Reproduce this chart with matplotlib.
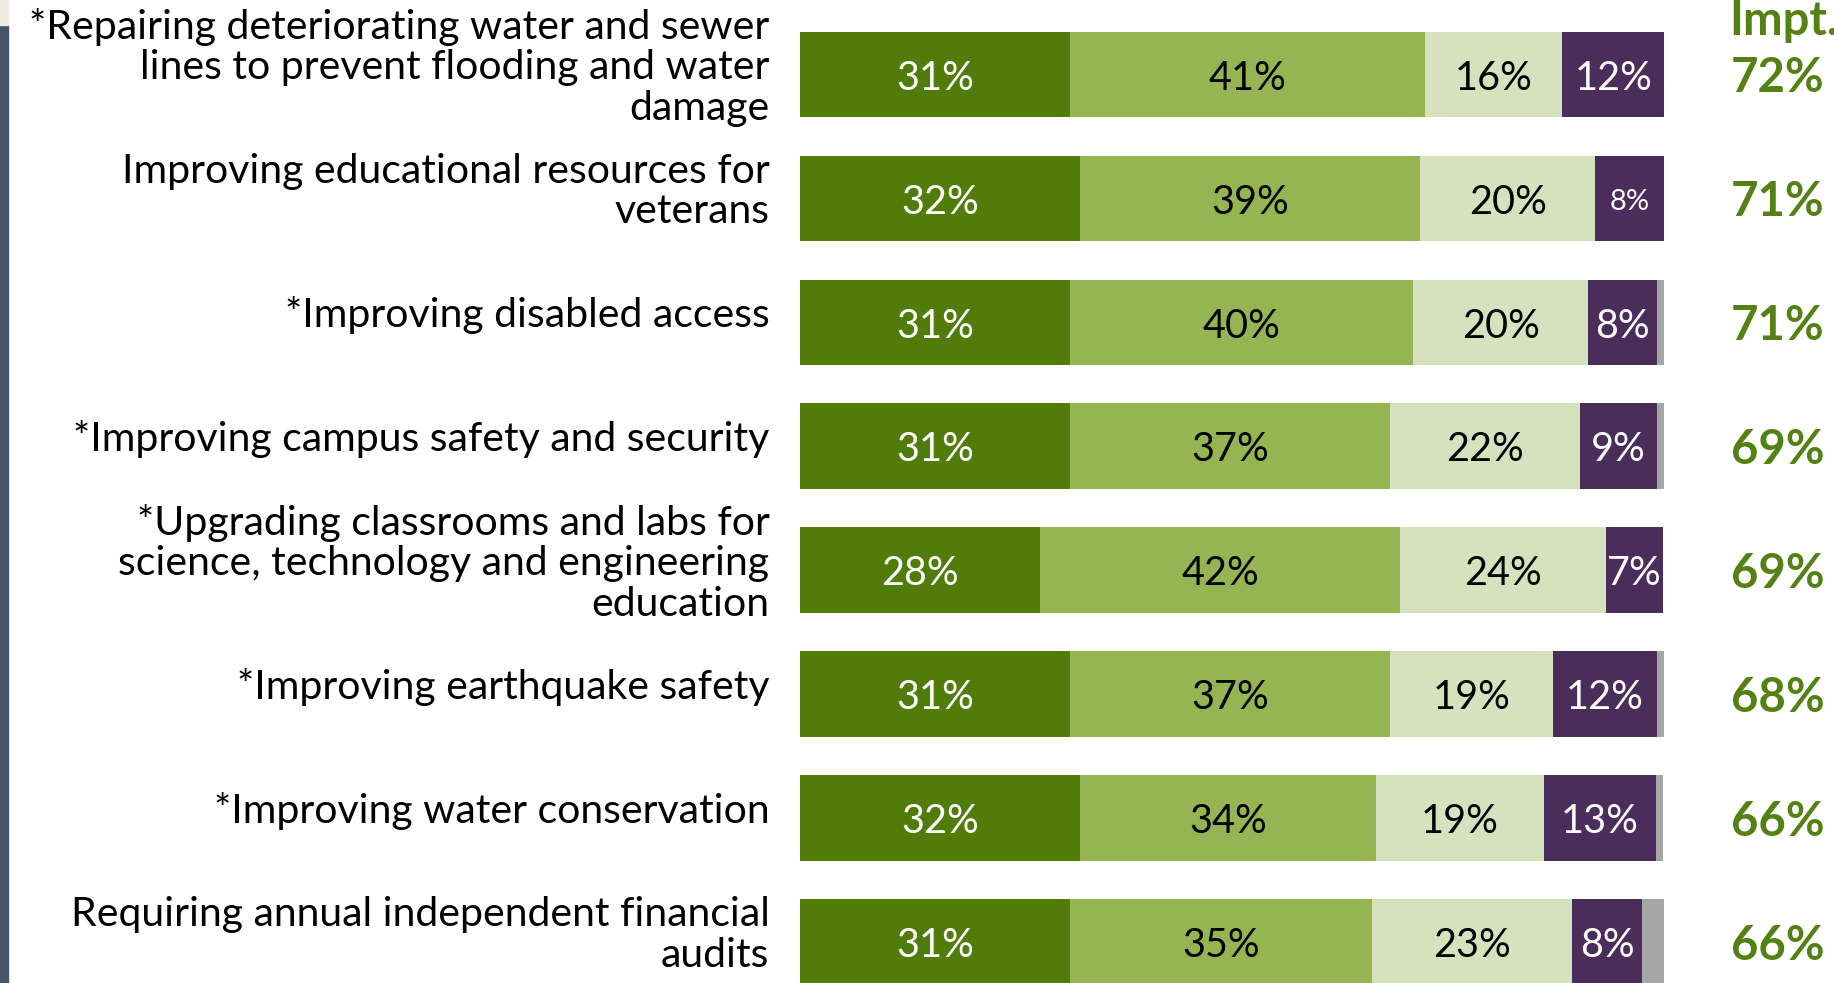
import numpy as np
import matplotlib.pyplot as plt
from matplotlib.patches import Rectangle

# survey items (top to bottom)
items = [
    "*Repairing deteriorating water and sewer\nlines to prevent flooding and water\ndamage",
    "Improving educational resources for\nveterans",
    "*Improving disabled access",
    "*Improving campus safety and security",
    "*Upgrading classrooms and labs for\nscience, technology and engineering\neducation",
    "*Improving earthquake safety",
    "*Improving water conservation",
    "Requiring annual independent financial\naudits",
]
very_imp = [31.2, 32.4, 31.2, 31.2, 27.8, 31.2, 32.4, 31.2]
smwt_imp = [41.1, 39.4, 39.8, 37.1, 41.7, 37.1, 34.3, 35.0]
not_too = [15.9, 20.2, 20.2, 22.0, 23.8, 18.8, 19.4, 23.2]
not_at_all = [11.9, 8.0, 8.0, 8.9, 6.6, 12.1, 13.0, 8.0]
dk = [0.0, 0.0, 0.8, 0.8, 0.0, 0.8, 0.8, 2.7]
impt = [72, 71, 71, 69, 69, 68, 66, 66]

series = [very_imp, smwt_imp, not_too, not_at_all, dk]
colors = ["#527C0A", "#95B553", "#D6E2BE", "#4A2D5A", "#A6A6A6"]
txt_colors = ["white", "black", "black", "white", None]
green_txt = "#548113"

plt.rcParams['font.family'] = ['Lato', 'DejaVu Sans']

fig = plt.figure(figsize=(18.34, 9.83), dpi=100)
ax = fig.add_axes([800 / 1834, 0, 864 / 1834, 1])

y = np.arange(len(items))
left = np.zeros(len(items))
for k, vals in enumerate(series):
    vals = np.array(vals)
    ax.barh(y, vals, left=left, height=0.69, color=colors[k], edgecolor='none')
    if txt_colors[k] is not None:
        for i, v in enumerate(vals):
            fs = 28.5
            if k == 3 and i == 1:
                fs = 21
            ax.text(left[i] + v / 2, y[i] + 0.03, f"{round(v)}%", ha='center', va='center',
                    color=txt_colors[k], fontsize=fs)
    left += vals

ax.set_xlim(0, 100)
ax.set_ylim(7.33, -0.60)
ax.set_yticks([])
ax.set_xticks([])
for s in ax.spines.values():
    s.set_visible(False)

# item labels, right aligned left of the bars
for i, name in enumerate(items):
    ax.annotate(name, xy=(0, y[i]), xytext=(-22, 5), textcoords='offset points',
                ha='right', va='center', multialignment='right', linespacing=1.12,
                fontsize=29.5, annotation_clip=False)

# importance column
for i, v in enumerate(impt):
    ax.text(118.6, y[i] + 0.03, f"{v}%", ha='right', va='center', color=green_txt,
            fontsize=34, fontweight='bold', clip_on=False)
ax.text(107.6, -0.43, "Impt.", ha='left', va='center', color=green_txt,
        fontsize=34, fontweight='bold', clip_on=False)

# slide edge decoration
fig.patches.append(Rectangle((0, 0), 8 / 1834, 1 - 25 / 983, transform=fig.transFigure,
                             color="#44546A", zorder=0))
fig.patches.append(Rectangle((0, 1 - 25 / 983), 8 / 1834, 25 / 983, transform=fig.transFigure,
                             color="#EEECE1", zorder=0))

fig.savefig("out.png", dpi=100)
